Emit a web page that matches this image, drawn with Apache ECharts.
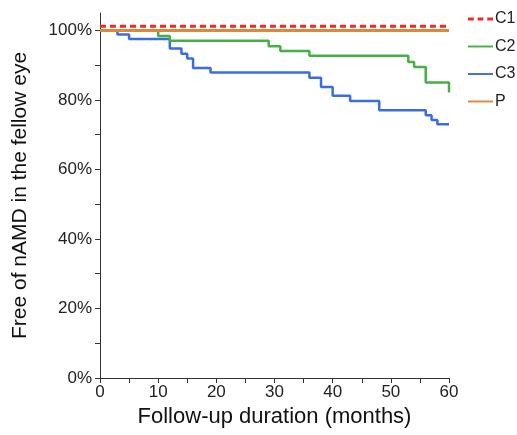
<!DOCTYPE html>
<html>
<head>
<meta charset="utf-8">
<script src="https://cdn.jsdelivr.net/npm/echarts@6/dist/echarts.min.js"></script>
<style>
  html, body { margin: 0; padding: 0; background: #fff; }
  #main { width: 517px; height: 435px; }
</style>
</head>
<body>
<div id="main"></div>
<script>
// step points: [month of drop, new survival %]
var c1Data = [[0, 101.2], [60, 101.2]];
var c2Data = [[0, 100], [10, 98.4], [12, 97], [29, 95.4], [31, 94.1], [36, 92.7],
  [53, 90.9], [54, 89.5], [56, 85], [60, 82.1]];
var c3Data = [[0, 100], [3, 98.8], [5, 97.5], [12, 94.8], [14, 93.3], [15, 91.9],
  [16, 89.2], [19, 87.9], [36, 86.4], [38, 83.7], [40, 81.2], [43, 79.7],
  [48, 77], [56, 75.6], [57, 74.2], [58, 73], [60, 73]];
var pData = [[0, 100], [60, 100]];

var xLabels = [0, 10, 20, 30, 40, 50, 60];
var xTicks = [0, 5, 10, 15, 20, 25, 30, 35, 40, 45, 50, 55, 60];
var yLabels = [0, 20, 40, 60, 80, 100];
var yTicks = [0, 10, 20, 30, 40, 50, 60, 70, 80, 90, 100];

var font = 'Liberation Sans, Arial, sans-serif';
var solidIcon = 'path://M0,0h26v2h-26z';
var dashIcon = 'path://M0,0h6v3h-6z M10,0h6v3h-6z M20,0h6v3h-6z';

var chart = echarts.init(document.getElementById('main'));

var option = {
  animation: false,
  grid: { left: 100, right: 68, top: 13, bottom: 57 },
  legend: {
    orient: 'vertical',
    left: 468,
    top: 11,
    padding: 0,
    itemWidth: 25,
    itemHeight: 14,
    itemGap: 11.5,
    textStyle: { fontFamily: font, fontSize: 16, color: '#222', padding: [0, 0, 0, -3] },
    data: [
      { name: 'C1', icon: dashIcon, itemStyle: { color: '#ee2b24' } },
      { name: 'C2', icon: solidIcon },
      { name: 'C3', icon: solidIcon },
      { name: 'P', icon: solidIcon }
    ]
  },
  xAxis: {
    type: 'value',
    min: 0,
    max: 60,
    interval: 10,
    name: 'Follow-up duration (months)',
    nameLocation: 'middle',
    nameGap: 28,
    nameTextStyle: { fontFamily: font, fontSize: 22, color: '#111' },
    axisLine: { lineStyle: { color: '#333', width: 1 } },
    axisTick: { show: true, length: 5, customValues: xTicks, lineStyle: { color: '#333' } },
    axisLabel: { customValues: xLabels, fontFamily: font, fontSize: 17, color: '#222', margin: 6 },
    splitLine: { show: false }
  },
  yAxis: {
    type: 'value',
    min: 0,
    max: 105,
    name: 'Free of nAMD in the fellow eye',
    nameLocation: 'middle',
    nameGap: 69,
    nameTextStyle: { fontFamily: font, fontSize: 21, color: '#111' },
    axisLine: { show: true, lineStyle: { color: '#333', width: 1 } },
    axisTick: { show: true, length: 5, customValues: yTicks, lineStyle: { color: '#333' } },
    axisLabel: {
      customValues: yLabels,
      fontFamily: font, fontSize: 17, color: '#222', margin: 8,
      formatter: function (v) { return v + '%'; }
    },
    splitLine: { show: false }
  },
  series: [
    {
      name: 'C1', type: 'line', data: c1Data, symbol: 'none', z: 5,
      lineStyle: { color: '#ee2b24', width: 3, type: [6, 4] },
      itemStyle: { color: '#ee2b24' }
    },
    {
      name: 'C2', type: 'line', step: 'end', data: c2Data, symbol: 'none', z: 3,
      lineStyle: { color: '#46b044', width: 2.5 },
      itemStyle: { color: '#46b044' }
    },
    {
      name: 'C3', type: 'line', step: 'end', data: c3Data, symbol: 'none', z: 2,
      lineStyle: { color: '#3a6ee0', width: 2.5 },
      itemStyle: { color: '#3a6ee0' }
    },
    {
      name: 'P', type: 'line', data: pData, symbol: 'none', z: 4,
      lineStyle: { color: '#e0873a', width: 3 },
      itemStyle: { color: '#e0873a' }
    }
  ]
};

chart.setOption(option);
</script>
</body>
</html>
